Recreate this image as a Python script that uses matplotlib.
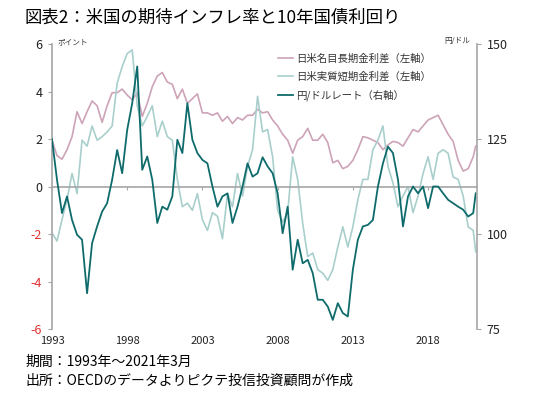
import matplotlib
matplotlib.use('Agg')
import matplotlib.pyplot as plt
import numpy as np

plt.rcParams['font.family'] = ['Noto Sans CJK JP', 'DejaVu Sans']
plt.rcParams['axes.unicode_minus'] = False

# one value every 4 months from Jan 1993, last one is Mar 2021
years = np.append(1993 + np.arange(85) / 3, 2021 + 2 / 12)

nominal_long = [
    1.95, 1.3, 1.15, 1.55, 2.1, 3.15, 2.65, 3.15, 3.6, 3.4,
    2.7, 3.4, 3.95, 3.95, 4.1, 3.85, 3.65, 3.95, 2.95, 3.5,
    4.2, 4.65, 4.8, 4.4, 4.3, 3.7, 4.1, 3.5, 3.7, 3.9,
    3.1, 3.1, 3.0, 3.1, 2.75, 2.95, 2.65, 2.9, 2.8, 3.0,
    3.0, 3.25, 3.1, 3.15, 2.8, 2.55, 2.2, 1.95, 1.4, 1.95,
    2.1, 2.45, 1.95, 1.95, 2.2, 1.85, 1.0, 1.1, 0.75, 0.85,
    1.1, 1.55, 2.1, 2.05, 1.95, 1.85, 1.55, 1.75, 1.9, 1.85,
    1.7, 2.05, 2.4, 2.3, 2.55, 2.8, 2.9, 3.0, 2.6, 2.2,
    1.9, 1.1, 0.65, 0.75, 1.25, 1.7,
]

real_short = [
    -1.95, -2.3, -1.4, -0.55, 0.55, -0.3, 1.95, 1.7, 2.55, 1.95,
    2.1, 2.3, 2.55, 4.35, 5.05, 5.6, 5.75, 3.4, 2.55, 2.95,
    3.4, 2.1, 2.75, 2.1, 1.95, 0.3, -0.85, -0.7, -1.0, -0.3,
    -1.4, -1.85, -1.1, -1.25, -2.2, -0.3, -0.85, 0.55, -0.4, 0.85,
    1.55, 3.8, 2.3, 2.4, 1.25, -1.0, -1.5, -1.1, 1.25, 0.3,
    -1.55, -2.95, -2.8, -3.5, -3.65, -3.95, -3.5, -2.55, -1.7, -2.55,
    -1.7, -0.55, 0.3, 0.3, 1.55, 1.95, 2.55, 0.85, 0.15, -0.85,
    -0.4, 0.0, -1.1, -0.4, 0.55, 1.25, 0.3, 1.4, 1.55, 1.4,
    0.4, 0.3, -0.4, -1.7, -1.85, -2.75,
]

usd_jpy = [
    125.0, 114.3, 105.5, 109.9, 103.7, 99.8, 98.5, 84.4, 97.6, 102.0,
    105.9, 108.1, 114.3, 122.1, 116.0, 127.4, 134.4, 144.1, 116.9, 120.4,
    114.3, 102.9, 107.2, 106.4, 109.9, 124.8, 121.3, 134.4, 124.8, 121.3,
    119.5, 118.6, 112.5, 107.2, 109.9, 110.7, 102.9, 107.2, 112.5, 118.6,
    115.1, 116.0, 120.2, 117.8, 116.0, 110.7, 100.2, 107.2, 90.6, 98.5,
    92.3, 93.2, 89.7, 82.7, 82.7, 80.9, 77.4, 81.8, 79.2, 78.3,
    90.6, 98.5, 102.0, 102.4, 103.7, 112.5, 118.6, 123.0, 121.3, 114.3,
    102.0, 109.9, 112.5, 110.7, 112.5, 106.8, 112.5, 112.5, 110.7, 109.0,
    108.1, 107.2, 106.4, 104.6, 105.5, 110.7,
]

series_labels = ['日米名目長期金利差（左軸）', '日米実質短期金利差（左軸）', '円/ドルレート（右軸）']
tick_years = [1993, 1998, 2003, 2008, 2013, 2018]
left_ticks = [-6, -4, -2, 0, 2, 4, 6]
right_ticks = [75, 100, 125, 150]

grey = '#A6A6A6'

fig = plt.figure(figsize=(5.5, 3.99), dpi=100)
ax = fig.add_axes([0.0945, 0.1754, 0.7727, 0.7143])

l1, = ax.plot(years, nominal_long, color='#CDA3B8', lw=1.2)
l2, = ax.plot(years, real_short, color='#A9CFCC', lw=1.2)
ax.set_xlim(1993, 2021.25)
ax.set_ylim(-6, 6)
ax.set_yticks(left_ticks)
for lbl, v in zip(ax.get_yticklabels(), left_ticks):
    lbl.set_color('#E03030' if v < 0 else '#222222')

for s in ['top', 'right']:
    ax.spines[s].set_visible(False)
ax.spines['left'].set_color(grey)
ax.spines['left'].set_linewidth(1.2)
ax.spines['bottom'].set_position(('data', 0))
ax.spines['bottom'].set_color(grey)
ax.spines['bottom'].set_linewidth(1.2)
ax.tick_params(axis='y', direction='out', length=3, color=grey, labelsize=9, pad=4)
ax.set_xticks(tick_years)
ax.tick_params(axis='x', direction='out', length=2.5, color=grey, labelbottom=False)

sec = ax.secondary_xaxis('bottom')
sec.set_xticks(tick_years, [str(y) for y in tick_years])
sec.tick_params(length=0, labelsize=8, pad=5, labelcolor='#222222')
sec.spines['bottom'].set_visible(False)

ax2 = ax.twinx()
l3, = ax2.plot(years, usd_jpy, color='#0F6B6B', lw=1.3)
ax2.set_ylim(75, 150)
ax2.set_yticks(right_ticks)
for s in ['top', 'left', 'bottom']:
    ax2.spines[s].set_visible(False)
ax2.spines['right'].set_color(grey)
ax2.spines['right'].set_linewidth(1.2)
ax2.tick_params(axis='y', direction='out', length=3, color=grey, labelsize=9, pad=4, labelcolor='#222222')

ax2.legend([l1, l2, l3], series_labels, loc='upper left', bbox_to_anchor=(0.51, 1.0),
           frameon=False, fontsize=7.5, handlelength=1.4, handletextpad=0.3,
           labelspacing=0.75, labelcolor='#333333')

fig.text(58 / 550, 1 - 42 / 399, 'ポイント', fontsize=5.5, color='#333333', va='center')
fig.text(470 / 550, 1 - 41 / 399, '円/ドル', fontsize=5.5, color='#333333', va='center', ha='right')

fig.text(25 / 550, 1 - 18 / 399, '図表2：米国の期待インフレ率と10年国債利回り', fontsize=12.5, va='center')
fig.text(25 / 550, 1 - 362 / 399, '期間：1993年～2021年3月', fontsize=10, va='center')
fig.text(25 / 550, 1 - 381 / 399, '出所：OECDのデータよりピクテ投信投資顧問が作成', fontsize=10, va='center')

fig.savefig('out.png', dpi=100)
